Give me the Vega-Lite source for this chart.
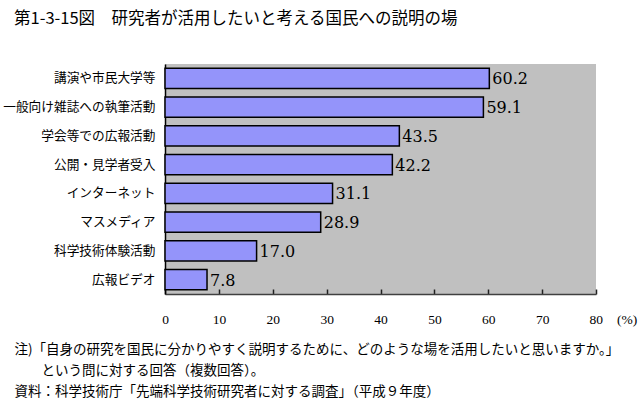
{
  "$schema": "https://vega.github.io/schema/vega-lite/v6.json",
  "width": 431,
  "height": 230,
  "autosize": "none",
  "padding": {"left": 165, "top": 64, "right": 44, "bottom": 118},
  "background": "white",
  "config": {"view": {"fill": "#c0c0c0", "stroke": null}},
  "title": {
    "text": "第1-3-15図　研究者が活用したいと考える国民への説明の場",
    "anchor": "start",
    "frame": "group",
    "dx": -151,
    "offset": 37,
    "font": "Noto Sans CJK JP",
    "fontSize": 16.5,
    "fontWeight": "normal",
    "color": "black"
  },
  "data": {
    "values": [
      {"label": "講演や市民大学等", "value": 60.2},
      {"label": "一般向け雑誌への執筆活動", "value": 59.1},
      {"label": "学会等での広報活動", "value": 43.5},
      {"label": "公開・見学者受入", "value": 42.2},
      {"label": "インターネット", "value": 31.1},
      {"label": "マスメディア", "value": 28.9},
      {"label": "科学技術体験活動", "value": 17.0},
      {"label": "広報ビデオ", "value": 7.8}
    ]
  },
  "encoding": {
    "y": {
      "field": "label",
      "type": "nominal",
      "sort": null,
      "scale": {"paddingInner": 0.3, "paddingOuter": 0.15},
      "axis": {
        "title": null,
        "ticks": false,
        "labelPadding": 10,
        "labelFont": "Noto Sans CJK JP",
        "labelFontSize": 12.7,
        "labelColor": "black",
        "domainColor": "black",
        "domainWidth": 1.5
      }
    },
    "x": {
      "field": "value",
      "type": "quantitative",
      "scale": {"domain": [0, 80], "nice": false, "zero": true},
      "axis": {
        "values": [0, 10, 20, 30, 40, 50, 60, 70, 80],
        "grid": false,
        "tickSize": -5,
        "tickColor": "#202020",
        "tickWidth": 1.5,
        "domainColor": "#404040",
        "domainWidth": 1.5,
        "labelPadding": 23,
        "labelFont": "Liberation Serif",
        "labelFontSize": 13.5,
        "labelColor": "black",
        "labelExpr": "datum.value == 80 ? '80　(%)' : datum.label",
        "labelAlign": {"condition": {"test": "datum.value == 80", "value": "left"}, "value": "center"},
        "labelOffset": {"condition": {"test": "datum.value == 80", "value": -7}, "value": 0},
        "labelFlush": false,
        "labelOverlap": false,
        "title": [
          "注)「自身の研究を国民に分かりやすく説明するために、どのような場を活用したいと思いますか。」",
          "\u200b　　という問に対する回答（複数回答）。",
          "資料：科学技術庁「先端科学技術研究者に対する調査」（平成９年度）"
        ],
        "titleFont": "Noto Sans CJK JP",
        "titleFontSize": 13.5,
        "titleFontWeight": "normal",
        "titleColor": "black",
        "titleAnchor": "start",
        "titleAlign": "left",
        "titleBaseline": "top",
        "titleX": -151,
        "titleY": 48,
        "titleLineHeight": 21
      }
    }
  },
  "layer": [
    {
      "mark": {"type": "bar", "fill": "#9494fa", "stroke": "black", "strokeWidth": 1.5}
    },
    {
      "mark": {"type": "text", "align": "left", "baseline": "middle", "dx": 3, "dy": 1, "font": "DejaVu Serif", "fontSize": 16, "color": "black"},
      "encoding": {"text": {"field": "value", "type": "quantitative", "format": ".1f"}}
    }
  ]
}
